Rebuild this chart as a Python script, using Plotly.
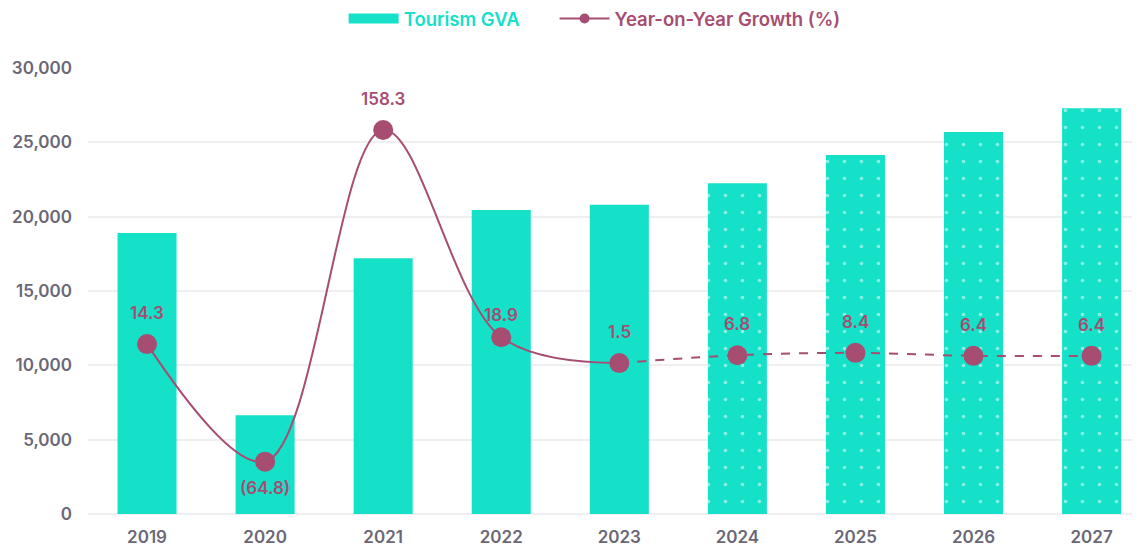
import plotly.graph_objects as go

# ---- data ----
years = ["2019", "2020", "2021", "2022", "2023", "2024", "2025", "2026", "2027"]
tourism_gva = [18900, 6650, 17200, 20450, 20800, 22250, 24150, 25700, 27300]
yoy_growth = [14.3, -64.8, 158.3, 18.9, 1.5, 6.8, 8.4, 6.4, 6.4]
forecast = [False, False, False, False, False, True, True, True, True]
y_ticks = [0, 5000, 10000, 15000, 20000, 25000, 30000]

# ---- style ----
TEAL = "#15E1C8"
MAROON = "#A64D71"
GRAY = "#6B6776"
GRID = "#EFEFF1"
FONT = "Inter"
FS = 17
LFS = 18.5

fig = go.Figure()

fig.add_trace(go.Bar(
    x=years, y=tourism_gva, width=0.5,
    marker=dict(
        color=TEAL, line=dict(width=0),
        pattern=dict(
            shape=["." if f else "" for f in forecast],
            fgcolor="white", bgcolor=TEAL, size=17, solidity=0.035,
            fillmode="overlay",
        ),
    ),
    showlegend=False, hoverinfo="skip",
))

last_actual = max(i for i, f in enumerate(forecast) if not f)

fig.add_trace(go.Scatter(
    x=years[:last_actual + 1], y=yoy_growth[:last_actual + 1], yaxis="y2",
    mode="lines", line=dict(color=MAROON, width=2, shape="spline", smoothing=1.0),
    showlegend=False, hoverinfo="skip",
))
fig.add_trace(go.Scatter(
    x=years[last_actual:], y=yoy_growth[last_actual:], yaxis="y2",
    mode="lines", line=dict(color=MAROON, width=2, dash="dash", shape="spline", smoothing=1.0),
    showlegend=False, hoverinfo="skip",
))
fig.add_trace(go.Scatter(
    x=years, y=yoy_growth, yaxis="y2",
    mode="markers", marker=dict(color=MAROON, size=20),
    showlegend=False, hoverinfo="skip",
))

# legend-only entries
fig.add_trace(go.Scatter(
    x=[None], y=[None], mode="lines",
    line=dict(color=TEAL, width=10),
    name=f"<span style='color:{TEAL}'>Tourism GVA</span>",
    legend="legend",
))
fig.add_trace(go.Scatter(
    x=[None], y=[None], mode="lines+markers",
    line=dict(color=MAROON, width=2), marker=dict(color=MAROON, size=10),
    name=f"<span style='color:{MAROON}'>Year-on-Year Growth (%)</span>",
    legend="legend2",
))

# data labels (x given as category index on the category axis)
label_shift = {"2022": 22}
for i, (yr, v) in enumerate(zip(years, yoy_growth)):
    txt = f"({abs(v):.1f})" if v < 0 else f"{v:.1f}"
    shift = -26 if v < 0 else label_shift.get(yr, 31)
    fig.add_annotation(
        x=i, y=v, xref="x", yref="y2", text=txt, showarrow=False, yshift=shift,
        font=dict(family=FONT, size=FS, color=MAROON, weight=600),
    )

legend_common = dict(
    orientation="h", xanchor="left", y=1.11, yanchor="middle",
    font=dict(family=FONT, size=LFS, weight=600), itemwidth=50,
    bgcolor="rgba(0,0,0,0)",
)

fig.update_layout(
    width=1132, height=536,
    margin=dict(l=80, r=0, t=60, b=30, autoexpand=False),
    paper_bgcolor="white", plot_bgcolor="white",
    font=dict(family=FONT, size=FS, color=GRAY, weight=600),
    xaxis=dict(
        type="category", range=[-0.5, 8.41], showgrid=False, showline=False,
        zeroline=False, ticks="", ticklabelstandoff=11,
        tickfont=dict(family=FONT, size=FS, color=GRAY, weight=600),
    ),
    yaxis=dict(
        range=[0, 30000], tickvals=y_ticks, tickformat=",d",
        showgrid=True, gridcolor=GRID, gridwidth=1.5,
        zeroline=True, zerolinecolor=GRID, zerolinewidth=1.5,
        showline=False, ticks="", ticklabelstandoff=15,
        tickfont=dict(family=FONT, size=FS, color=GRAY, weight=600),
    ),
    yaxis2=dict(
        range=[-100, 200], overlaying="y", side="right", visible=False,
        showgrid=False, zeroline=False,
    ),
    legend=dict(x=0.243, **legend_common),
    legend2=dict(x=0.4435, **legend_common),
)

fig.write_html("out.html")
